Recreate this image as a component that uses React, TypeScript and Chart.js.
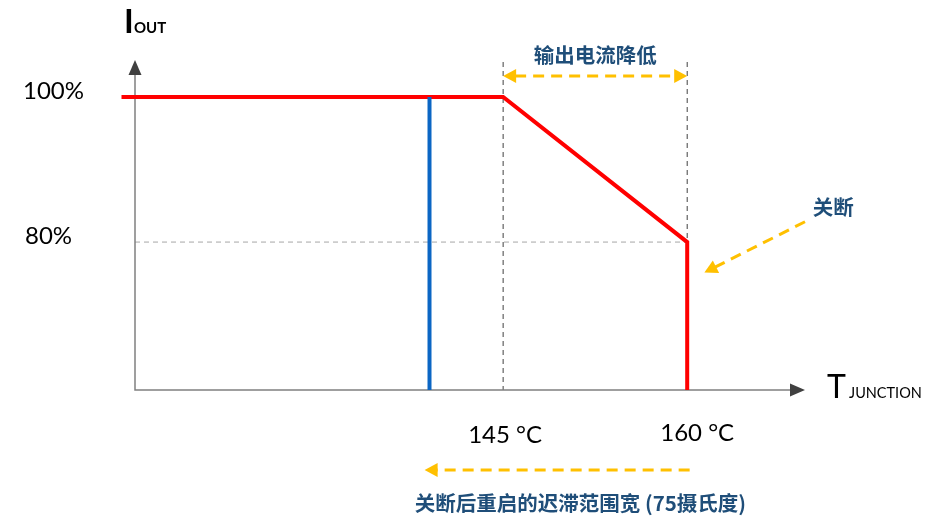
import { useEffect, useRef } from 'react';
import { Chart, registerables } from 'chart.js';

// schematic derating curve: junction temperature (°C) vs output current (%)
const curveTemps = [113.9, 145, 160, 160];
const curveCurrent = [100, 100, 80, 59.6];
// restart (hysteresis) marker
const restartTemps = [139, 139];
const restartCurrent = [59.6, 100];
// tick labels
const tempTickValues = [145, 160];
const tempTickLabels = ['145 °C', '160 °C'];
const currentTickValues = [100, 80];
const currentTickLabels = ['100%', '80%'];
// annotations
const deratingLabel = '输出电流降低';
const shutdownLabel = '关断';
const hysteresisLabel = '关断后重启的迟滞范围宽 (75摄氏度)';

const X_MIN = 115;
const X_MAX = 169.6;
const Y_MIN = 59.6;
const Y_MAX = 104.83;

const AXIS_GRAY = '#808080';
const ARROW_GRAY = '#404040';
const YELLOW = '#ffc000';
const NAVY = '#1f4e79';
const CJK = '"Noto Sans CJK SC", "Noto Sans", sans-serif';
const LATIN = 'Lato, "Open Sans", sans-serif';

function arrowHead(ctx, tipX, tipY, angle, len, half, color) {
  ctx.save();
  ctx.translate(tipX, tipY);
  ctx.rotate(angle);
  ctx.beginPath();
  ctx.moveTo(0, 0);
  ctx.lineTo(-len, -half);
  ctx.lineTo(-len, half);
  ctx.closePath();
  ctx.fillStyle = color;
  ctx.fill();
  ctx.restore();
}

// dashed yellow arrow, head at (x2, y2)
function yellowArrow(ctx, x1, y1, x2, y2, doubleHead) {
  const ang = Math.atan2(y2 - y1, x2 - x1);
  const len = 13;
  const ex = x2 - Math.cos(ang) * (len - 1);
  const ey = y2 - Math.sin(ang) * (len - 1);
  const sx = doubleHead ? x1 + Math.cos(ang) * (len - 1) : x1;
  const sy = doubleHead ? y1 + Math.sin(ang) * (len - 1) : y1;
  ctx.save();
  ctx.strokeStyle = YELLOW;
  ctx.lineWidth = 3;
  ctx.setLineDash([11, 7]);
  ctx.beginPath();
  ctx.moveTo(sx, sy);
  ctx.lineTo(ex, ey);
  ctx.stroke();
  ctx.restore();
  arrowHead(ctx, x2, y2, ang, len, 7, YELLOW);
  if (doubleHead) arrowHead(ctx, x1, y1, ang + Math.PI, len, 7, YELLOW);
}

const diagramPlugin = {
  id: 'diagram',
  beforeDatasetsDraw(chart) {
    const { ctx, scales } = chart;
    const x = scales.x;
    const y = scales.y;
    const left = x.getPixelForValue(X_MIN);
    const bottom = y.getPixelForValue(Y_MIN);
    const top = y.getPixelForValue(Y_MAX);
    const right = x.getPixelForValue(X_MAX);

    ctx.save();
    // guide lines
    ctx.setLineDash([5, 4]);
    ctx.lineWidth = 1;
    ctx.strokeStyle = '#a6a6a6';
    ctx.beginPath();
    ctx.moveTo(left, y.getPixelForValue(80));
    ctx.lineTo(x.getPixelForValue(160), y.getPixelForValue(80));
    ctx.stroke();
    ctx.strokeStyle = '#404040';
    ctx.beginPath();
    ctx.moveTo(x.getPixelForValue(145), top);
    ctx.lineTo(x.getPixelForValue(145), bottom);
    ctx.moveTo(x.getPixelForValue(160), top);
    ctx.lineTo(x.getPixelForValue(160), y.getPixelForValue(80));
    ctx.stroke();

    // axes
    ctx.setLineDash([]);
    ctx.strokeStyle = AXIS_GRAY;
    ctx.lineWidth = 1.5;
    ctx.beginPath();
    ctx.moveTo(left, top + 12);
    ctx.lineTo(left, bottom);
    ctx.lineTo(right - 12, bottom);
    ctx.stroke();
    ctx.restore();
    arrowHead(ctx, left, top - 2, -Math.PI / 2, 15, 6.5, ARROW_GRAY);
    arrowHead(ctx, right, bottom, 0, 15, 6.5, ARROW_GRAY);
  },
  afterDatasetsDraw(chart) {
    const { ctx, scales } = chart;
    const x = scales.x;
    const y = scales.y;
    const left = x.getPixelForValue(X_MIN);
    const bottom = y.getPixelForValue(Y_MIN);
    const top = y.getPixelForValue(Y_MAX);
    const right = x.getPixelForValue(X_MAX);

    // yellow arrows
    yellowArrow(ctx, x.getPixelForValue(145), y.getPixelForValue(102.9),
      x.getPixelForValue(160), y.getPixelForValue(102.9), true);
    yellowArrow(ctx, x.getPixelForValue(169.6), y.getPixelForValue(82.8),
      x.getPixelForValue(161.4), y.getPixelForValue(75.8), false);
    yellowArrow(ctx, x.getPixelForValue(160.2), bottom + 80,
      x.getPixelForValue(138.6), bottom + 80, false);

    ctx.save();
    ctx.textBaseline = 'middle';
    ctx.fillStyle = '#000';
    // y tick labels
    ctx.font = `24px ${LATIN}`;
    ctx.textAlign = 'left';
    currentTickValues.forEach((v, i) => {
      ctx.fillText(currentTickLabels[i], i === 0 ? 23 : 25, y.getPixelForValue(v) - 6);
    });
    // x tick labels
    ctx.textAlign = 'center';
    tempTickValues.forEach((v, i) => {
      ctx.fillText(tempTickLabels[i], x.getPixelForValue(v) + (i === 0 ? 2 : 10), bottom + (i === 0 ? 45 : 43));
    });

    // axis titles
    ctx.textAlign = 'left';
    ctx.textBaseline = 'alphabetic';
    ctx.font = `bold 33px ${LATIN}`;
    ctx.fillText('I', left - 11, top - 29);
    ctx.font = `bold 15px ${LATIN}`;
    ctx.fillText('OUT', left - 1, top - 29);
    ctx.font = `32px ${LATIN}`;
    ctx.fillText('T', right + 22, bottom + 8);
    ctx.font = `14.5px ${LATIN}`;
    ctx.fillText('JUNCTION', right + 44, bottom + 8);

    // chinese annotations
    ctx.fillStyle = NAVY;
    ctx.font = `bold 20.5px ${CJK}`;
    ctx.textAlign = 'center';
    ctx.textBaseline = 'middle';
    ctx.fillText(deratingLabel, x.getPixelForValue(152.5), y.getPixelForValue(105.8));
    ctx.fillText(shutdownLabel, x.getPixelForValue(171.9), y.getPixelForValue(84.8));
    ctx.fillText(hysteresisLabel, x.getPixelForValue(151.3), bottom + 113);
    ctx.restore();
  },
};

export default function App() {
  const chartRef = useRef(null);

  useEffect(() => {
    Chart.register(...registerables);
    const ctx = chartRef.current.getContext('2d');
    const chart = new Chart(ctx, {
      type: 'scatter',
      data: {
        datasets: [
          {
            label: 'restart',
            data: restartTemps.map((t, i) => ({ x: t, y: restartCurrent[i] })),
            showLine: true,
            borderColor: '#0b66c4',
            borderWidth: 4,
            pointRadius: 0,
            clip: false,
          },
          {
            label: 'derating',
            data: curveTemps.map((t, i) => ({ x: t, y: curveCurrent[i] })),
            showLine: true,
            borderColor: '#ff0000',
            borderWidth: 4,
            borderJoinStyle: 'miter',
            pointRadius: 0,
            clip: false,
          },
        ],
      },
      options: {
        animation: false,
        responsive: true,
        maintainAspectRatio: false,
        layout: { padding: { left: 135, top: 62, right: 138, bottom: 133 } },
        plugins: { legend: { display: false }, tooltip: { enabled: false } },
        scales: {
          x: { type: 'linear', min: X_MIN, max: X_MAX, display: false },
          y: { type: 'linear', min: Y_MIN, max: Y_MAX, display: false },
        },
      },
      plugins: [diagramPlugin],
    });

    return () => {
      chart.destroy();
    };
  }, []);

  return (
    <div style={{ position: 'fixed', left: 0, top: 0, width: 943, height: 523, background: '#fff' }}>
      <canvas ref={chartRef} />
    </div>
  );
}
